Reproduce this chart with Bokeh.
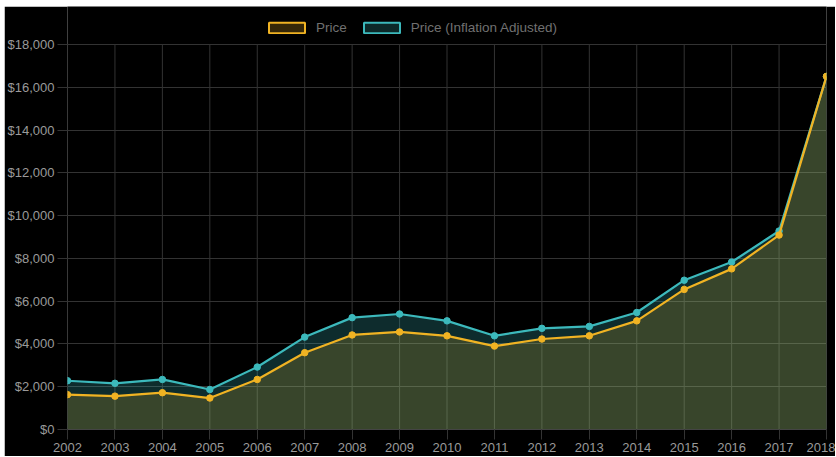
from bokeh.plotting import figure
from bokeh.models import (ColumnDataSource, Legend, LegendItem, FixedTicker,
                          NumeralTickFormatter, Range1d)
from bokeh.embed import file_html
from bokeh.resources import INLINE

years = [2002, 2003, 2004, 2005, 2006, 2007, 2008, 2009, 2010,
         2011, 2012, 2013, 2014, 2015, 2016, 2017, 2018]
price = [1630, 1560, 1720, 1470, 2340, 3590, 4420, 4560, 4380,
         3900, 4230, 4380, 5080, 6550, 7510, 9090, 16510]
adjusted = [2280, 2160, 2340, 1870, 2920, 4320, 5230, 5400, 5080,
            4380, 4730, 4820, 5470, 6980, 7830, 9280, 16510]
y_ticks = list(range(0, 18001, 2000))
Y_MAX = 18000

YELLOW = "#f0b323"
TEAL = "#3cb9bc"
GRID = "#333333"
FONT = "Liberation Sans"

# layout sizes (pixels)
W, H = 831, 450
TOP_PAD = 38        # space above the value area that holds the legend
BOTTOM = 27
frame_h = H - BOTTOM
y_top = Y_MAX * frame_h / (frame_h - TOP_PAD)

src = ColumnDataSource(dict(x=years, price=price, adj=adjusted,
                            zero=[0] * len(years), top=[Y_MAX] * len(years)))

p = figure(width=W, height=H, output_backend="svg", toolbar_location=None,
           x_range=Range1d(2002, 2018), y_range=Range1d(0, y_top),
           min_border_left=63, min_border_right=9, min_border_top=0,
           min_border_bottom=BOTTOM)
p.margin = (6, 0, 0, 4)
p.background_fill_color = "black"
p.border_fill_color = "black"
p.outline_line_color = None

p.xgrid.grid_line_color = None
p.ygrid.grid_line_color = GRID
p.ygrid.ticker = FixedTicker(ticks=y_ticks)

p.xaxis.ticker = FixedTicker(ticks=years)
p.yaxis.ticker = FixedTicker(ticks=y_ticks)
p.yaxis.formatter = NumeralTickFormatter(format="$0,0")
for ax in (p.xaxis[0], p.yaxis[0]):
    ax.major_tick_line_color = GRID
    ax.major_tick_out = 10
    ax.major_tick_in = 0
    ax.minor_tick_line_color = None
    ax.major_label_text_color = "#9a9a9a"
    ax.major_label_text_font = FONT
    ax.major_label_text_font_size = "13px"
    ax.major_label_standoff = 3
p.xaxis[0].axis_line_color = "#444444"
p.yaxis[0].axis_line_color = None
p.yaxis[0].axis_line_alpha = 0
p.yaxis[0].axis_line_width = 0

# vertical grid lines, limited to the value area
p.segment(x0="x", y0="zero", x1="x", y1="top", source=src,
          line_color=GRID, line_width=1)

# fills
p.varea(x="x", y1="zero", y2="adj", source=src, fill_color=TEAL, fill_alpha=0.24)
p.varea(x="x", y1="zero", y2="price", source=src, fill_color=YELLOW, fill_alpha=0.19)
# lines and points
p.line(x="x", y="adj", source=src, line_color=TEAL, line_width=2.2)
p.scatter(x="x", y="adj", source=src, size=6.5, fill_color=TEAL, line_color=TEAL)
p.line(x="x", y="price", source=src, line_color=YELLOW, line_width=2.2)
p.scatter(x="x", y="price", source=src, size=6.5, fill_color=YELLOW, line_color=YELLOW)

# legend swatches (off-screen quads)
dummy = ColumnDataSource(dict(l=[1990], r=[1991], t=[-10], b=[-20]))
q1 = p.quad(left="l", right="r", top="t", bottom="b", source=dummy,
            fill_color=YELLOW, fill_alpha=0.22, line_color=YELLOW, line_width=2)
q2 = p.quad(left="l", right="r", top="t", bottom="b", source=dummy,
            fill_color=TEAL, fill_alpha=0.22, line_color=TEAL, line_width=2)

legend = Legend(items=[LegendItem(label="Price", renderers=[q1]),
                       LegendItem(label="Price (Inflation Adjusted)", renderers=[q2])],
                orientation="horizontal", location=(197, 394),
                glyph_width=45, glyph_height=13, label_standoff=7, spacing=12,
                padding=5, margin=0,
                background_fill_color="black", background_fill_alpha=0,
                border_line_color=None,
                label_text_color="#707070", label_text_font=FONT,
                label_text_font_size="13.5px")
p.add_layout(legend, "center")

open("out.html", "w").write(file_html(p, INLINE))
